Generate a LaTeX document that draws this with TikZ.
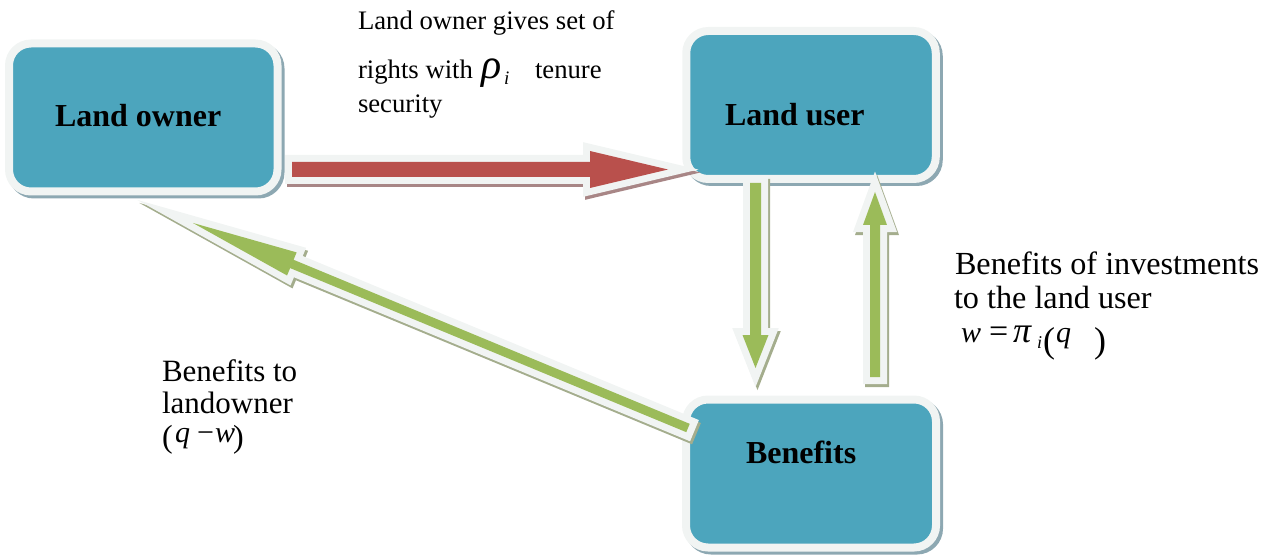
\documentclass[tikz,border=0pt]{standalone}
\usepackage{fontspec}
\setmainfont{Liberation Serif}
\usetikzlibrary{calc}
\pgfdeclarelayer{bg}
\pgfsetlayers{bg,main}
\definecolor{boxfill}{HTML}{4CA5BD}
\definecolor{outl}{HTML}{F1F4F3}
\definecolor{bshadow}{HTML}{8DA8B2}
\definecolor{redfill}{HTML}{B9504C}
\definecolor{redshadow}{HTML}{A88686}
\definecolor{greenfill}{HTML}{9BBB59}
\definecolor{greenshadow}{HTML}{A4AD8D}
\newcommand\fsz[1]{\fontsize{#1}{#1}\selectfont}
% block arrow: #1 from, #2 to, #3 half shaft, #4 half head, #5 head length, #6 fill, #7 shadow
\newcommand\blockarrow[7]{%
  \coordinate (bah) at ($(#2)!#5!(#1)$);
  \def\bapath{($(#1)!#3!90:(#2)$) -- ($(bah)!#3!90:(#2)$) -- ($(bah)!#4!90:(#2)$) -- (#2) -- ($(bah)!#4!-90:(#2)$) -- ($(bah)!#3!-90:(#2)$) -- ($(#1)!#3!-90:(#2)$) -- cycle}%
  \begin{scope}[transform canvas={shift={(2pt,-3pt)}}]
    \path[draw=#7, fill=#7, line width=14pt, miter limit=25] \bapath;
  \end{scope}
  \path[draw=outl, fill=outl, line width=14pt, miter limit=25] \bapath;
  \path[fill=#6] \bapath;
}
\begin{document}
\begin{tikzpicture}[x=1pt,y=-1pt,
  boxnode/.style={draw=outl, line width=8pt, fill=boxfill, rounded corners=22pt,
    inner sep=0pt, outer sep=0pt, minimum height=148pt},
  boxshadow/.style={draw=bshadow, fill=bshadow, line width=8pt, rounded corners=22pt},
  lbl/.style={anchor=base west, inner sep=0pt, outer sep=0pt, text=black},
  boxlbl/.style={lbl, font=\fsz{32}\bfseries},
  toplbl/.style={lbl, font=\fsz{26.7}},
  sidelbl/.style={lbl, font=\fsz{31}},
  rsidelbl/.style={lbl, font=\fsz{32.2}},
  mathit/.style={lbl, font=\fsz{30}\itshape},
  mathrm/.style={lbl, font=\fsz{30}},
  bigparen/.style={lbl, font=\fsz{36}}
]
\useasboundingbox (0,0) rectangle (1274,556);

% boxes
\node[boxnode, minimum width=268.5pt] (lo) at (143.25,117.5) {};
\node[boxnode, minimum width=249.5pt] (lu) at (811,105) {};
\node[boxnode, minimum width=250pt] (be) at (811,473.5) {};
\begin{pgfonlayer}{bg}
  \foreach \b in {lo,lu,be}
    \draw[boxshadow] ($(\b.north west)+(3,3)$) rectangle ($(\b.south east)+(3,3)$);
\end{pgfonlayer}

% arrow end points
\coordinate (r1) at (292,169.5);
\coordinate (r2) at (668,169.5);
\coordinate (d1) at (755.5,183);
\coordinate (d2) at (755.5,368);
\coordinate (u1) at (875,377);
\coordinate (u2) at (875,192);
\coordinate (g1) at (688,428);
\coordinate (g2) at (193,223);

\blockarrow{r1}{r2}{7.5pt}{18.5pt}{78pt}{redfill}{redshadow}
\blockarrow{d1}{d2}{5.5pt}{13pt}{33pt}{greenfill}{greenshadow}
\blockarrow{u1}{u2}{5pt}{12pt}{33pt}{greenfill}{greenshadow}
\blockarrow{g1}{g2}{4.5pt}{12.5pt}{107pt}{greenfill}{greenshadow}

% box labels
\node[boxlbl] (lot) at (55,127) {Land owner};
\node[boxlbl] (lut) at (725,126) {Land user};
\node[boxlbl] (bet) at (746,463) {Benefits};

% top label
\node[toplbl] (t1) at (358,29.3) {Land owner gives set of};
\node[toplbl] (t2) at (358,78.3) {rights with};
\node[lbl, font=\fsz{42}\itshape] (rho) at (481,78.3) {ρ};
\node[lbl, font=\fsz{19}\itshape] (rhoi) at (504,85) {i};
\node[toplbl] (t3) at (535,78.3) {tenure};
\node[toplbl] (t4) at (358,113) {security};

% right label
\node[rsidelbl] (s1) at (955,274.3) {Benefits of investments};
\node[rsidelbl] (s2) at (954,308.3) {to the land user};
\node[mathit] (sw) at (961,342) {w};
\node[lbl, font=\fsz{34}] (seq) at (989,342) {=};
\node[lbl, font=\fsz{36}\itshape] (spi) at (1013,342) {π};
\node[lbl, font=\fsz{18}\itshape] (spii) at (1037,348) {i};
\node[bigparen] (slp) at (1043,352) {(};
\node[mathit] (sq) at (1056,342) {q};
\node[bigparen] (srp) at (1094,352) {)};

% left label
\node[sidelbl] (l1) at (162,381.7) {Benefits to};
\node[sidelbl] (l2) at (162,413) {landowner};
\node[lbl, font=\fsz{32}] (llp) at (162,447) {(};
\node[mathit] (lq) at (175,442) {q};
\node[mathrm] (lmin) at (197,442) {−};
\node[mathit] (lw) at (215,442) {w};
\node[lbl, font=\fsz{32}] (lrp) at (233,447) {)};
\end{tikzpicture}
\end{document}
